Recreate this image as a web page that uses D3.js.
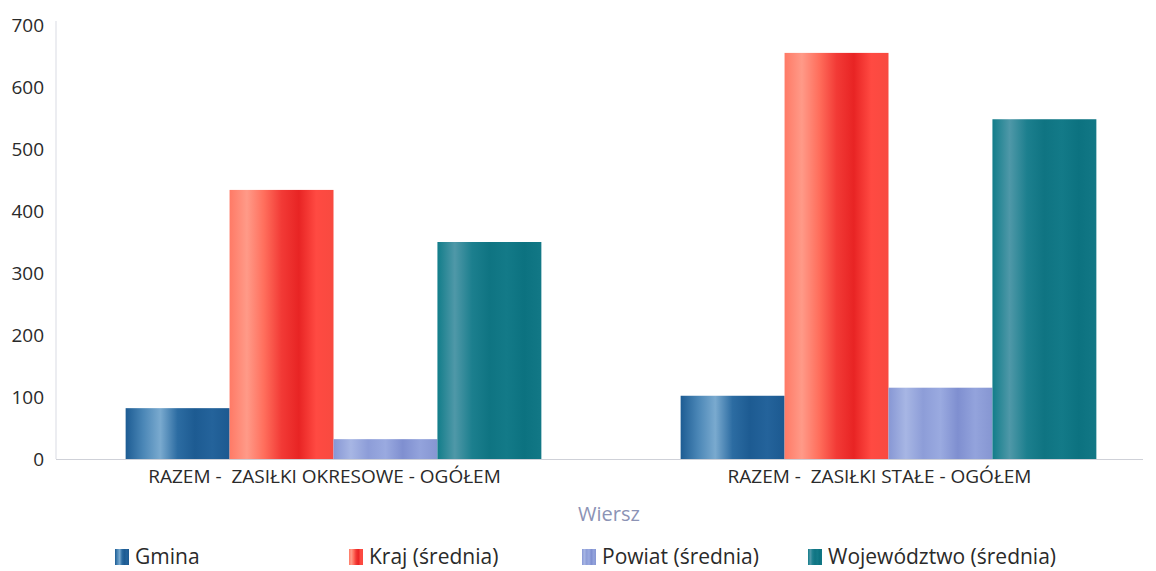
<!DOCTYPE html>
<html>
<head>
<meta charset="utf-8">
<script src="https://cdn.jsdelivr.net/npm/d3@7"></script>
<style>
  body { margin: 0; background: #fff; font-family: "Open Sans", "Noto Sans", sans-serif; }
  text { white-space: pre; }
</style>
</head>
<body>
<div class="chart"></div>
<script>
// Data
const categories = ['RAZEM -  ZASIŁKI OKRESOWE - OGÓŁEM', 'RAZEM -  ZASIŁKI STAŁE - OGÓŁEM'];
const seriesNames = ['Gmina', 'Kraj (średnia)', 'Powiat (średnia)', 'Województwo (średnia)'];
const gmina = [82, 102];
const kraj = [434, 655];
const powiat = [32, 115];
const wojewodztwo = [350, 548];
const yTicks = [0, 100, 200, 300, 400, 500, 600, 700];

const seriesValues = [gmina, kraj, powiat, wojewodztwo];

// colour stops for each series (cylinder-ish shading)
const shades = [
  ['#1d5c93', '#4a86b6', '#7aaacf', '#2c6ca2', '#1d5b92', '#24639b', '#1c5990'],
  ['#ff7a66', '#ff9a88', '#ff6e5c', '#f23a36', '#e82424', '#ff4a42', '#f84a40'],
  ['#8797d4', '#a7b6e4', '#8d9dd8', '#9aaae0', '#7f8fd0', '#93a3dc', '#8696d2'],
  ['#127d8a', '#4f98a8', '#1c7f8e', '#0f7482', '#137a88', '#0c7280', '#127886']
];

const outerWidth = 1156;
const outerHeight = 571;

const svg = d3.select('.chart')
  .append('svg')
    .attr('width', outerWidth)
    .attr('height', outerHeight);

const defs = svg.append('defs');
shades.forEach((stops, i) => {
  const g = defs.append('linearGradient')
    .attr('id', 'grad' + i)
    .attr('x1', '0%').attr('x2', '100%')
    .attr('y1', '0%').attr('y2', '0%');
  stops.forEach((c, j) => {
    g.append('stop')
      .attr('offset', (j / (stops.length - 1) * 100) + '%')
      .attr('stop-color', c);
  });
});

const plotLeft = 56;
const plotTop = 25;
const plotBottom = 459;

const y = d3.scaleLinear()
  .domain([0, 700])
  .range([plotBottom, plotTop]);

const x0 = d3.scaleBand()
  .domain(categories)
  .range([56, 1166])
  .paddingInner(0)
  .paddingOuter(0);

const x1 = d3.scaleBand()
  .domain(seriesNames)
  .range([0, x0.bandwidth()])
  .paddingOuter(0.67)
  .paddingInner(0);

// y axis
const yAxis = d3.axisLeft(y)
  .tickValues(yTicks)
  .tickSize(0)
  .tickPadding(12);

const yG = svg.append('g')
  .attr('transform', `translate(${plotLeft},0)`)
  .call(yAxis);
yG.select('.domain')
  .attr('stroke', '#d9dbe3')
  .attr('d', `M0,${plotTop - 4}V${plotBottom}`);
yG.selectAll('text')
  .attr('font-size', 19)
  .attr('fill', '#2a2a2a')
  .attr('font-family', '"Open Sans", sans-serif');

// baseline
svg.append('line')
  .attr('x1', plotLeft).attr('x2', 1143)
  .attr('y1', y(0) + 0.5).attr('y2', y(0) + 0.5)
  .attr('stroke', '#cfd1d8');

// bars
const groups = svg.selectAll('.group')
  .data(categories)
  .enter().append('g')
    .attr('class', 'group')
    .attr('transform', d => `translate(${x0(d)},0)`);

groups.selectAll('rect')
  .data((d, ci) => seriesNames.map((s, si) => ({ s, si, v: seriesValues[si][ci] })))
  .enter().append('rect')
    .attr('x', d => x1(d.s))
    .attr('y', d => y(d.v))
    .attr('width', x1.bandwidth())
    .attr('height', d => y(0) - y(d.v))
    .attr('fill', d => `url(#grad${d.si})`);

// x axis labels
const xAxis = d3.axisBottom(x0).tickSize(0).tickPadding(11);
const xG = svg.append('g')
  .attr('transform', `translate(-9,${plotBottom})`)
  .call(xAxis);
xG.select('.domain').remove();
xG.selectAll('text')
  .attr('font-size', 19)
  .attr('fill', '#2a2a2a')
  .attr('font-family', '"Open Sans", sans-serif');

// axis title
svg.append('text')
  .attr('x', 609)
  .attr('y', 521)
  .attr('text-anchor', 'middle')
  .attr('font-size', 20)
  .attr('fill', '#8c93b5')
  .text('Wiersz');

// legend
const legendX = [115, 349, 582, 808];
const legend = svg.selectAll('.legend')
  .data(seriesNames)
  .enter().append('g')
    .attr('class', 'legend')
    .attr('transform', (d, i) => `translate(${legendX[i]},549)`);

legend.append('rect')
  .attr('width', 14)
  .attr('height', 16)
  .attr('fill', (d, i) => `url(#grad${i})`);

legend.append('text')
  .attr('x', 20)
  .attr('y', 15)
  .attr('font-size', 21)
  .attr('fill', '#2a2a2a')
  .text(d => d);
</script>
</body>
</html>
